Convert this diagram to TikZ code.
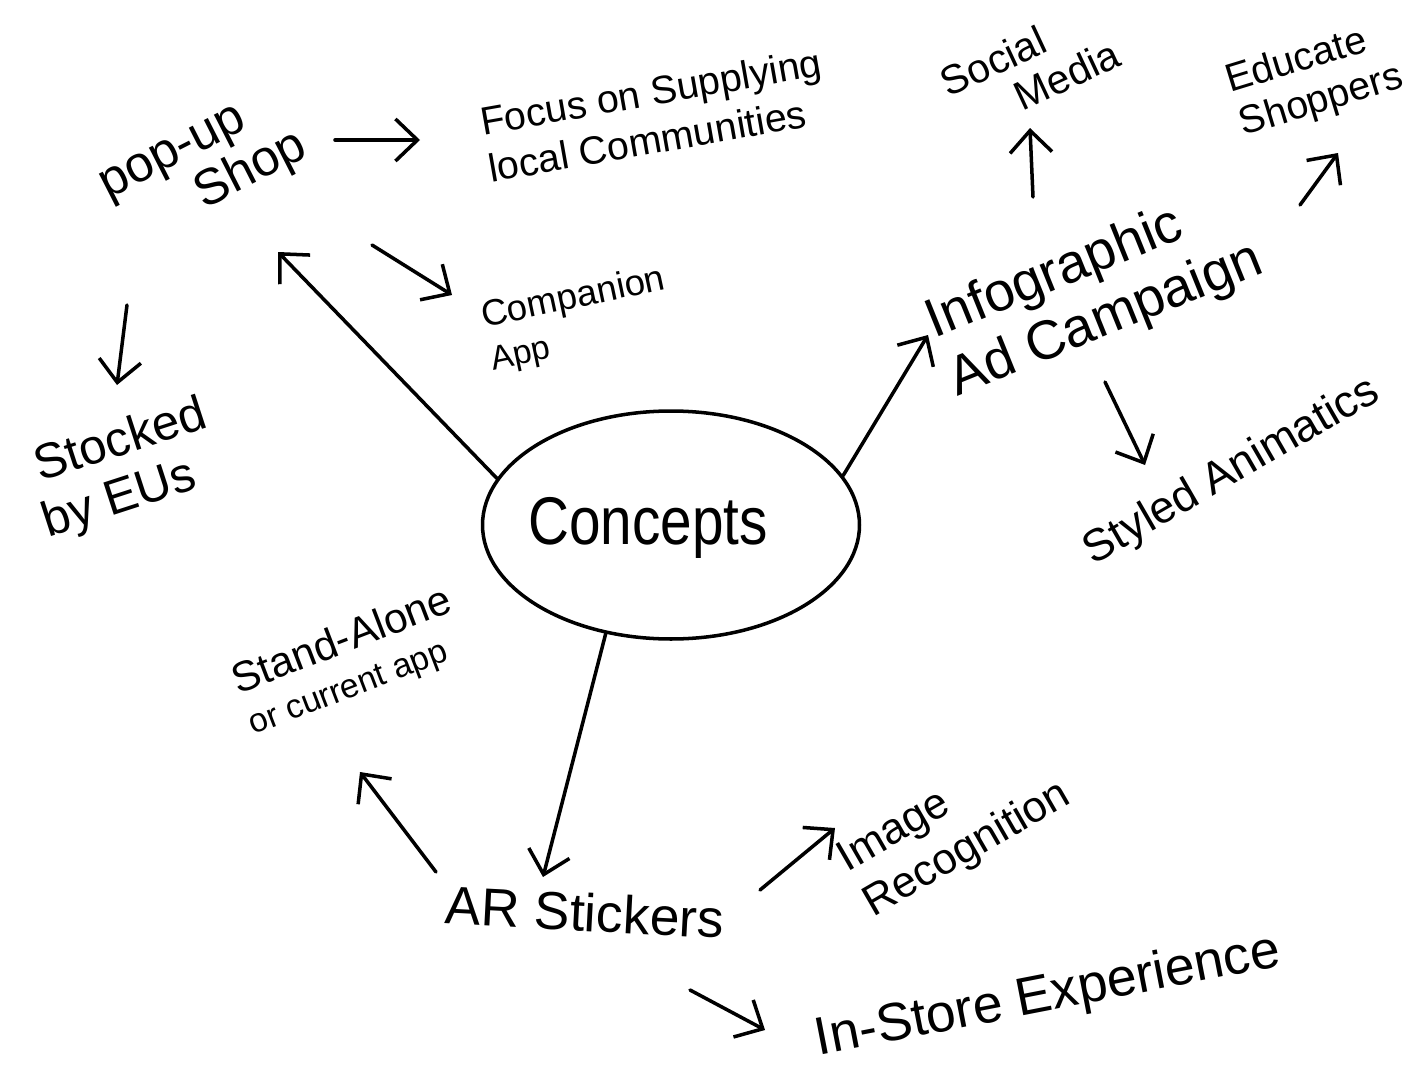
\documentclass[tikz,border=0pt]{standalone}
\usepackage{fontspec}
\setmainfont{Liberation Sans}
\usetikzlibrary{arrows.meta,shapes.geometric}
\begin{document}
\begin{tikzpicture}[x=0.05cm,y=-0.05cm,
  ink/.style={line width=5pt,line cap=round,line join=round},
  arr/.style={ink,-{Straight Barb[length=1.1cm,width=2.1cm]}},
  lbl/.style={inner sep=0pt,align=left},
]
\fill[white] (0,0) rectangle (1420,1065);
\useasboundingbox (0,0) rectangle (1420,1065);

% centre
\node[ink,draw,ellipse,inner sep=0pt,minimum width=18.85cm,minimum height=11.4cm] (concepts) at (671,525) {};
\node[lbl,font=\fontsize{96}{100}\selectfont] (conceptsText) at (648,528) {\scalebox{0.84}[1]{Concepts}};

% labels
\node[lbl,rotate=27,font=\fontsize{72}{74}\selectfont] (popup) at (205,170) {pop-up\\\hspace*{1.6em}Shop};
\node[lbl,rotate=10,font=\fontsize{56}{68}\selectfont] (focus) at (655,115) {Focus on Supplying\\local Communities};
\node[lbl,rotate=12,font=\fontsize{52}{62}\selectfont] (companion) at (578,320) {Companion\\{\fontsize{48}{52}\selectfont App}};
\node[lbl,rotate=18,font=\fontsize{70}{78}\selectfont] (stocked) at (125,470) {\hspace*{0.2em}Stocked\\by EUs};
\node[lbl,rotate=25,font=\fontsize{58}{62}\selectfont] (social) at (1030,68) {Social\\\hspace*{1.5em}Media};
\node[lbl,rotate=17,font=\fontsize{56}{64}\selectfont] (educate) at (1315,80) {Educate\\Shoppers};
\node[lbl,rotate=22,font=\fontsize{78}{88}\selectfont] (info) at (1095,292) {Infographic\\Ad Campaign};
\node[lbl,rotate=30,font=\fontsize{64}{70}\selectfont] (styled) at (1232,472) {Styled Animatics};
\node[lbl,rotate=21,font=\fontsize{60}{62}\selectfont] (stand) at (350,662) {Stand-Alone\\{\fontsize{48}{52}\selectfont or current app}};
\node[lbl,rotate=-3,font=\fontsize{76}{80}\selectfont] (ar) at (585,912) {AR Stickers};
\node[lbl,rotate=30,font=\fontsize{62}{74}\selectfont] (image) at (955,828) {Image\\Recognition};
\node[lbl,rotate=11,font=\fontsize{76}{80}\selectfont] (instore) at (1048,997) {In-Store Experience};

% arrow end points
\coordinate (popupToFocusA) at (335,140);
\coordinate (popupToFocusB) at (420,140);
\coordinate (popupToCompA) at (372,245);
\coordinate (popupToCompB) at (452,295);
\coordinate (popupToStockA) at (127,305);
\coordinate (popupToStockB) at (117,385);
\coordinate (conceptsToPopup) at (278,252);
\coordinate (conceptsToInfo) at (928,335);
\coordinate (infoToSocialA) at (1033,197);
\coordinate (infoToSocialB) at (1030,128);
\coordinate (infoToEduA) at (1300,205);
\coordinate (infoToEduB) at (1338,153);
\coordinate (infoToStyledA) at (1105,382);
\coordinate (infoToStyledB) at (1145,465);
\coordinate (conceptsToAR) at (543,877);
\coordinate (arToStandA) at (436,872);
\coordinate (arToStandB) at (360,772);
\coordinate (arToImageA) at (760,890);
\coordinate (arToImageB) at (835,828);
\coordinate (arToStoreA) at (690,990);
\coordinate (arToStoreB) at (765,1030);

% connectors
\draw[arr] (popupToFocusA) -- (popupToFocusB);
\draw[arr] (popupToCompA) -- (popupToCompB);
\draw[arr] (popupToStockA) -- (popupToStockB);
\draw[arr] (concepts.165) -- (conceptsToPopup);
\draw[arr] (concepts.16) -- (conceptsToInfo);
\draw[arr] (infoToSocialA) -- (infoToSocialB);
\draw[arr] (infoToEduA) -- (infoToEduB);
\draw[arr] (infoToStyledA) -- (infoToStyledB);
\draw[arr] (concepts.239) -- (conceptsToAR);
\draw[arr] (arToStandA) -- (arToStandB);
\draw[arr] (arToImageA) -- (arToImageB);
\draw[arr] (arToStoreA) -- (arToStoreB);
\end{tikzpicture}
\end{document}
